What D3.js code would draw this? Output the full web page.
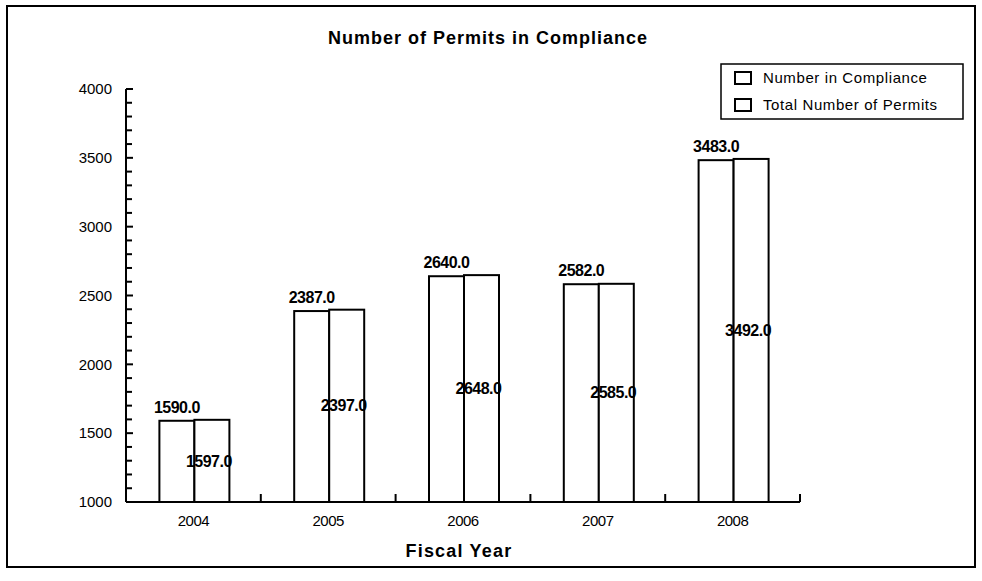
<!DOCTYPE html>
<html>
<head>
<meta charset="utf-8">
<script src="https://cdn.jsdelivr.net/npm/d3@7/dist/d3.min.js"></script>
<style>
  html, body { margin: 0; padding: 0; background: #fff; }
  svg { display: block; font-family: Arial, "Liberation Sans", sans-serif; }
</style>
</head>
<body>
<svg id="chart" width="982" height="581"></svg>
<script>
// Fiscal years and permit counts
const years = ["2004", "2005", "2006", "2007", "2008"];
const seriesNames = ["Number in Compliance", "Total Number of Permits"];
const inCompliance = [1590, 2387, 2640, 2582, 3483];
const totalPermits = [1597, 2397, 2648, 2585, 3492];
const yTicks = [1000, 1500, 2000, 2500, 3000, 3500, 4000];

const svg = d3.select("#chart");

// outer frame
svg.append("rect")
  .attr("x", 7).attr("y", 6).attr("width", 968).attr("height", 561)
  .attr("fill", "#fff").attr("stroke", "#000").attr("stroke-width", 2);

const plot = { left: 126, right: 800, top: 89, bottom: 502 };

const x0 = d3.scaleBand().domain(years).range([plot.left, plot.right]);
const barW = 35;
const x1 = d3.scaleBand().domain(seriesNames)
  .range([x0.bandwidth() / 2 - barW + 1, x0.bandwidth() / 2 + barW + 1]);
const y = d3.scaleLinear().domain([1000, 4000]).range([plot.bottom, plot.top]);

// title
svg.append("text")
  .attr("x", 488).attr("y", 44)
  .attr("text-anchor", "middle")
  .attr("font-size", 18).attr("font-weight", "bold")
  .attr("letter-spacing", 1)
  .text("Number of Permits in Compliance");

// bars
const rows = years.map((yr, i) => ({
  year: yr,
  values: [
    { key: seriesNames[0], value: inCompliance[i] },
    { key: seriesNames[1], value: totalPermits[i] }
  ]
}));

const groups = svg.append("g").selectAll("g")
  .data(rows).join("g")
  .attr("transform", d => `translate(${x0(d.year)},0)`);

groups.selectAll("rect")
  .data(d => d.values).join("rect")
  .attr("x", d => x1(d.key))
  .attr("y", d => y(d.value))
  .attr("width", x1.bandwidth())
  .attr("height", d => y(1000) - y(d.value))
  .attr("fill", "#fff")
  .attr("stroke", "#000")
  .attr("stroke-width", 2);

// value labels: compliance above bar, total in the middle of its bar
groups.append("text")
  .attr("x", d => x1(seriesNames[0]) + x1.bandwidth() / 2)
  .attr("y", d => y(d.values[0].value) - 8)
  .attr("text-anchor", "middle")
  .attr("font-size", 16).attr("font-weight", "bold")
  .attr("letter-spacing", -0.5)
  .text(d => d.values[0].value.toFixed(1));

groups.append("text")
  .attr("x", d => x1(seriesNames[1]) + x1.bandwidth() / 2 - 3)
  .attr("y", d => (y(d.values[1].value) + y(1000)) / 2)
  .attr("dy", "0.35em")
  .attr("text-anchor", "middle")
  .attr("font-size", 16).attr("font-weight", "bold")
  .attr("letter-spacing", -0.5)
  .text(d => d.values[1].value.toFixed(1));

// y axis: major ticks with labels, minor ticks every 100
const yAxis = svg.append("g").attr("transform", `translate(${plot.left},0)`);
yAxis.append("line")
  .attr("x1", 0).attr("x2", 0).attr("y1", y(4000)).attr("y2", y(1000))
  .attr("stroke", "#000").attr("stroke-width", 2);
yAxis.selectAll("line.minor")
  .data(d3.range(1000, 4001, 100)).join("line")
  .attr("class", "minor")
  .attr("x1", 0).attr("x2", d => d % 500 === 0 ? 7 : 6)
  .attr("y1", d => y(d)).attr("y2", d => y(d))
  .attr("stroke", "#000").attr("stroke-width", 2);
yAxis.selectAll("text")
  .data(yTicks).join("text")
  .attr("x", -14).attr("y", d => y(d))
  .attr("dy", "0.35em")
  .attr("text-anchor", "end")
  .attr("font-size", 15)
  .attr("letter-spacing", 0)
  .text(d => d);

// x axis with ticks at category boundaries
const xAxis = svg.append("g").attr("transform", `translate(0,${plot.bottom})`);
xAxis.append("line")
  .attr("x1", plot.left).attr("x2", plot.right)
  .attr("stroke", "#000").attr("stroke-width", 2);
xAxis.selectAll("line.tick")
  .data(years.slice(1).map(d => x0(d)).concat([plot.right])).join("line")
  .attr("class", "tick")
  .attr("x1", d => d).attr("x2", d => d)
  .attr("y1", 0).attr("y2", -8)
  .attr("stroke", "#000").attr("stroke-width", 2);
xAxis.selectAll("text")
  .data(years).join("text")
  .attr("x", d => x0(d) + x0.bandwidth() / 2)
  .attr("y", 24)
  .attr("text-anchor", "middle")
  .attr("font-size", 15)
  .attr("letter-spacing", -0.5)
  .text(d => d);

svg.append("text")
  .attr("x", 459).attr("y", 557)
  .attr("text-anchor", "middle")
  .attr("font-size", 18).attr("font-weight", "bold")
  .attr("letter-spacing", 1.2)
  .text("Fiscal Year");

// legend
const legend = svg.append("g");
legend.append("rect")
  .attr("x", 721).attr("y", 64).attr("width", 242).attr("height", 55)
  .attr("fill", "#fff").attr("stroke", "#000").attr("stroke-width", 1.5);
const items = legend.selectAll("g.item")
  .data(seriesNames).join("g")
  .attr("class", "item")
  .attr("transform", (d, i) => `translate(735,${78 + i * 27})`);
items.append("rect")
  .attr("x", 0).attr("y", -6).attr("width", 16).attr("height", 12)
  .attr("fill", "#fff").attr("stroke", "#000").attr("stroke-width", 2);
items.append("text")
  .attr("x", 28).attr("y", 0).attr("dy", "0.35em")
  .attr("font-size", 15)
  .attr("letter-spacing", 0.6)
  .text(d => d);
</script>
</body>
</html>
